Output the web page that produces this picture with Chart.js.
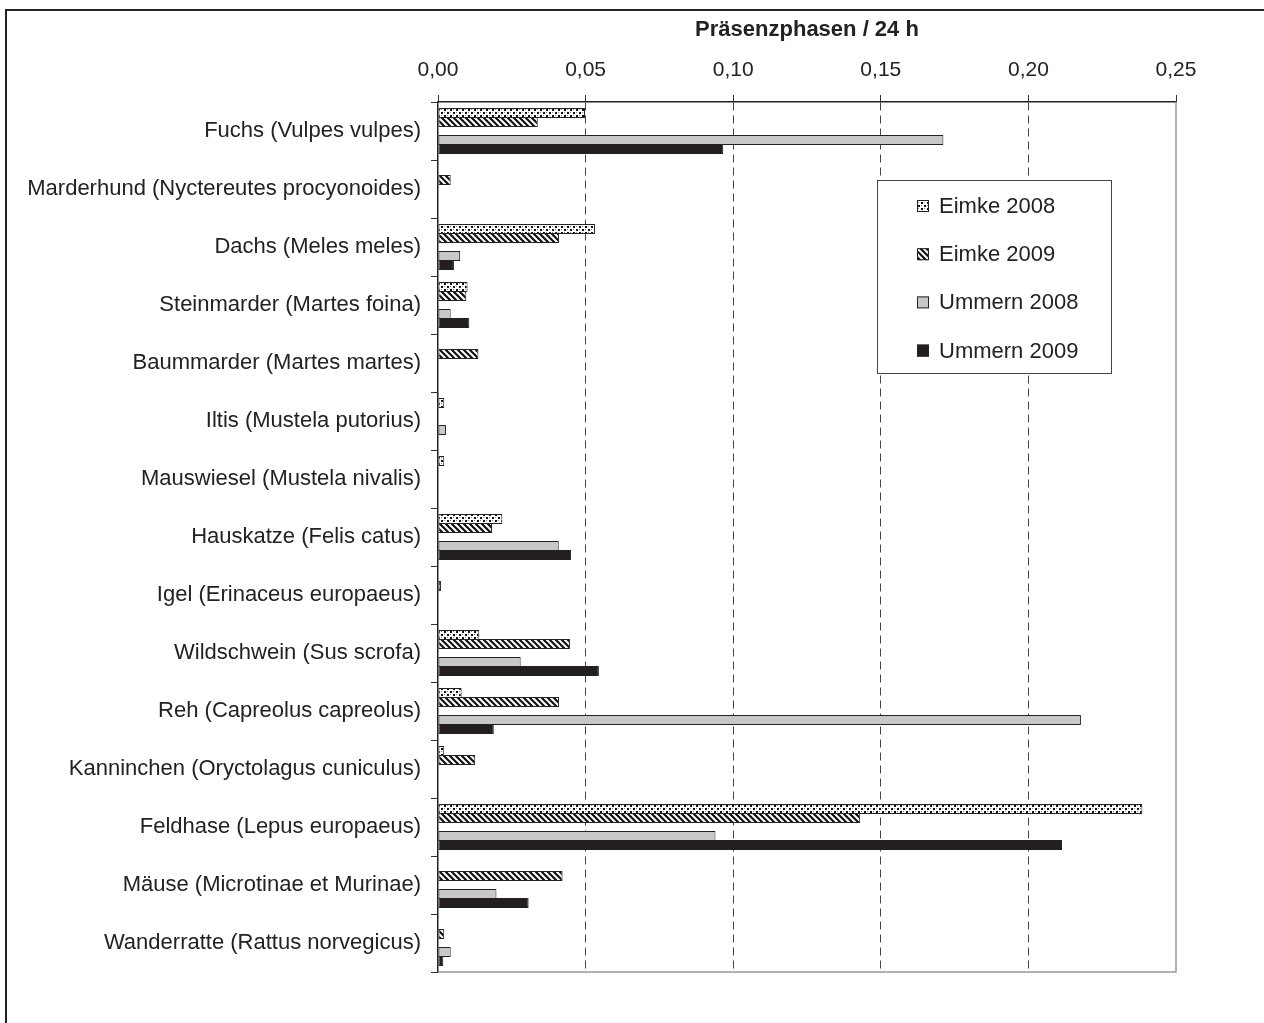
<!DOCTYPE html>
<html>
<head>
<meta charset="utf-8">
<script src="https://cdn.jsdelivr.net/npm/chart.js@4/dist/chart.umd.min.js"></script>
<style>
  body { margin: 0; background: #fff; }
  #wrap { position: relative; width: 1264px; height: 1023px; }
  #frame { position: absolute; left: 5px; top: 9px; width: 1270px; height: 1030px;
           border-left: 2px solid #222; border-top: 2px solid #222; pointer-events: none; }
</style>
</head>
<body>
<div id="wrap">
  <canvas id="chart" width="1264" height="1023"></canvas>
  <div id="frame"></div>
</div>
<script>
const categories = [
    'Fuchs (Vulpes vulpes)',
    'Marderhund (Nyctereutes procyonoides)',
    'Dachs (Meles meles)',
    'Steinmarder (Martes foina)',
    'Baummarder (Martes martes)',
    'Iltis (Mustela putorius)',
    'Mauswiesel (Mustela nivalis)',
    'Hauskatze (Felis catus)',
    'Igel (Erinaceus europaeus)',
    'Wildschwein (Sus scrofa)',
    'Reh (Capreolus capreolus)',
    'Kanninchen (Oryctolagus cuniculus)',
    'Feldhase (Lepus europaeus)',
    'Mäuse (Microtinae et Murinae)',
    'Wanderratte (Rattus norvegicus)',
];

const eimke2008 = [0.0498, null, 0.0532, 0.0100, null, 0.0021, 0.0021, 0.0218, null, 0.0140, 0.0080, 0.0021, 0.2386, null, null];
const eimke2009 = [0.0338, 0.0043, 0.0410, 0.0096, 0.0137, null, null, 0.0183, 0.0010, 0.0447, 0.0410, 0.0126, 0.1430, 0.0422, 0.0021];
const ummern2008 = [0.1712, null, 0.0075, 0.0043, null, 0.0027, null, 0.0409, null, 0.0280, 0.2178, null, 0.0940, 0.0198, 0.0043];
const ummern2009 = [0.0966, null, 0.0054, 0.0106, null, null, null, 0.0451, null, 0.0545, 0.0189, null, 0.2114, 0.0307, 0.0018];

const xTicks = [0, 0.05, 0.10, 0.15, 0.20, 0.25];
const axisTitle = 'Präsenzphasen / 24 h';

const textColor = '#222';
const FONT = 'Arial, "Liberation Sans", sans-serif';

function makePattern(w, h, draw) {
    const c = document.createElement('canvas');
    c.width = w; c.height = h;
    const g = c.getContext('2d');
    g.fillStyle = '#fff';
    g.fillRect(0, 0, w, h);
    draw(g);
    return document.getElementById('chart').getContext('2d').createPattern(c, 'repeat');
}

const dotted = makePattern(6, 6, g => {
    g.fillStyle = '#111';
    g.fillRect(0, 1, 2, 2);
    g.fillRect(3, 4, 2, 2);
    g.fillStyle = '#888';
    g.fillRect(3, 1, 1, 1);
    g.fillRect(0, 4, 1, 1);
});

const hatched = makePattern(6, 6, g => {
    g.strokeStyle = '#111';
    g.lineWidth = 2.2;
    g.beginPath();
    g.moveTo(-1, -1); g.lineTo(7, 7);
    g.moveTo(-4, 2); g.lineTo(4, 10);
    g.moveTo(2, -4); g.lineTo(10, 4);
    g.stroke();
});

const barStyle = { borderColor: '#222', borderWidth: 1, borderSkipped: false, categoryPercentage: 0.78, barPercentage: 1.1 };

const datasets = [
    { label: 'Eimke 2008', data: eimke2008, backgroundColor: dotted, ...barStyle },
    { label: 'Eimke 2009', data: eimke2009, backgroundColor: hatched, ...barStyle },
    { label: '', data: [], backgroundColor: 'rgba(0,0,0,0)', ...barStyle },
    { label: 'Ummern 2008', data: ummern2008, backgroundColor: '#c8c8c8', ...barStyle },
    { label: 'Ummern 2009', data: ummern2009, backgroundColor: '#231f20', ...barStyle },
];

// grey right/bottom edge of the plot area
const plotFrame = {
    id: 'plotFrame',
    beforeDatasetsDraw(chart) {
        const { ctx, chartArea: a } = chart;
        ctx.save();
        ctx.strokeStyle = '#999';
        ctx.lineWidth = 1.5;
        ctx.beginPath();
        ctx.moveTo(a.left, a.bottom); ctx.lineTo(a.right, a.bottom); ctx.lineTo(a.right, a.top);
        ctx.stroke();
        ctx.restore();
    },
};

// legend box inside the plot
const boxLegend = {
    id: 'boxLegend',
    afterDraw(chart) {
        const { ctx, chartArea: a } = chart;
        const x = a.left + 439, y = a.top + 78, w = 234, h = 193;
        ctx.save();
        ctx.fillStyle = '#fff';
        ctx.fillRect(x, y, w, h);
        ctx.strokeStyle = '#444';
        ctx.lineWidth = 1;
        ctx.strokeRect(x + 0.5, y + 0.5, w, h);
        ctx.font = '22px ' + FONT;
        ctx.textBaseline = 'middle';
        chart.data.datasets.filter(d => d.label).forEach((d, i) => {
            const cy = y + 26 + i * 48.2;
            ctx.fillStyle = d.backgroundColor;
            ctx.fillRect(x + 40, cy - 6, 12, 12);
            ctx.strokeStyle = '#222';
            ctx.strokeRect(x + 40.5, cy - 5.5, 11, 11);
            ctx.fillStyle = textColor;
            ctx.fillText(d.label, x + 62, cy + 1);
        });
        ctx.restore();
    },
};

new Chart(document.getElementById('chart'), {
    type: 'bar',
    data: { labels: categories, datasets },
    plugins: [plotFrame, boxLegend],
    options: {
        indexAxis: 'y',
        responsive: false,
        animation: false,
        layout: { padding: { left: 0, top: 0, right: 88, bottom: 51 } },
        plugins: { legend: { display: false }, tooltip: { enabled: false } },
        scales: {
            x: {
                position: 'top',
                min: 0,
                max: 0.25,
                afterBuildTicks: scale => { scale.ticks = xTicks.map(v => ({ value: v })); },
                afterFit: scale => { scale.height = 102; },
                ticks: {
                    color: textColor,
                    font: { family: FONT, size: 21 },
                    padding: 12,
                    callback: v => v.toFixed(2).replace('.', ','),
                },
                grid: {
                    color: c => (c.index === 0 || c.index === xTicks.length - 1) ? 'rgba(0,0,0,0)' : '#444',
                    tickColor: '#333',
                    tickLength: 7,
                },
                border: { color: '#222', width: 1.5, dash: [8, 5] },
                title: {
                    display: true,
                    text: axisTitle,
                    color: textColor,
                    font: { family: FONT, size: 22, weight: 'bold' },
                    padding: { top: 17, bottom: 0 },
                },
            },
            y: {
                afterFit: scale => { scale.width = 438; },
                ticks: {
                    color: textColor,
                    font: { family: FONT, size: 22 },
                    padding: 10,
                },
                grid: {
                    offset: true,
                    drawOnChartArea: false,
                    color: '#333',
                    tickLength: 7,
                },
                border: { color: '#222', width: 1.5 },
            },
        },
    },
});
</script>
</body>
</html>
